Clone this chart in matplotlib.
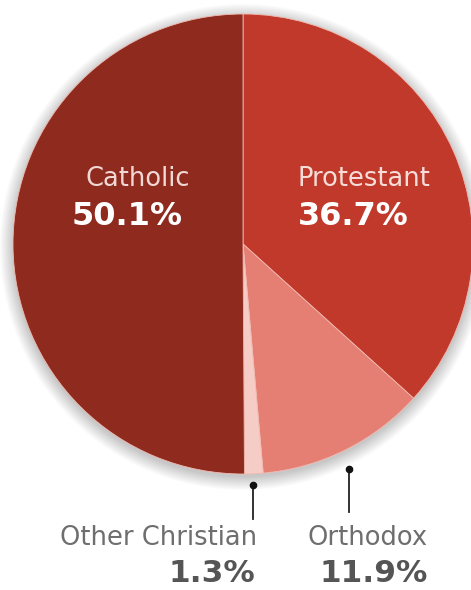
import matplotlib
matplotlib.use("Agg")
import matplotlib.pyplot as plt
from matplotlib.patches import Circle

labels = ["Protestant", "Orthodox", "Other Christian", "Catholic"]
shares = [36.7, 11.9, 1.3, 50.1]
colors = ["#C0392A", "#E57F74", "#F5CDC6", "#8E2A1E"]

W, H = 471, 590
fig = plt.figure(figsize=(W / 100, H / 100), dpi=100)
ax = fig.add_axes([0, 0, 1, 1])

cx, cy, r = 243, H - 244, 230

# soft shadow
for i in range(14):
    ax.add_patch(Circle((cx, cy - 3), r + 13 - i, color="#000000", alpha=0.016, lw=0, zorder=1))

ax.pie(shares, colors=colors, startangle=90, counterclock=False, center=(cx, cy), radius=r,
       wedgeprops=dict(edgecolor="#F2B9B0", linewidth=0.6), frame=True)
ax.set_xlim(0, W)
ax.set_ylim(0, H)
ax.set_aspect("equal")
ax.axis("off")

fam = ["Verdana", "DejaVu Sans"]
NS, BS = 18.5, 23
# inner labels
ax.text(137.5, H - 186, labels[3], color="#F0D8D4", fontsize=NS, ha="center", va="baseline", family=fam)
ax.text(127.5, H - 225, f"{shares[3]}%", color="white", fontsize=BS, fontweight="bold", ha="center", va="baseline", family=fam)
ax.text(298, H - 186, labels[0], color="#F6DDD8", fontsize=NS, ha="left", va="baseline", family=fam)
ax.text(298, H - 225, f"{shares[0]}%", color="white", fontsize=BS, fontweight="bold", ha="left", va="baseline", family=fam)

# leader lines
for x, y0, y1 in [(253, 485, 519), (349, 469, 512)]:
    ax.plot([x, x], [H - y0, H - y1], color="#222222", lw=1.3, zorder=5)
    ax.plot([x], [H - y0], "o", color="#111111", ms=4.5, zorder=6)

# outer labels
ax.text(257, H - 545, labels[2], color="#6E6E6E", fontsize=NS, ha="right", va="baseline", family=fam)
ax.text(255, H - 582, f"{shares[2]}%", color="#555555", fontsize=22.5, fontweight="bold", ha="right", va="baseline", family=fam)
ax.text(428, H - 545, labels[1], color="#6E6E6E", fontsize=NS, ha="right", va="baseline", family=fam)
ax.text(428, H - 582, f"{shares[1]}%", color="#555555", fontsize=22.5, fontweight="bold", ha="right", va="baseline", family=fam)

fig.savefig("out.png", dpi=100, facecolor="white")
